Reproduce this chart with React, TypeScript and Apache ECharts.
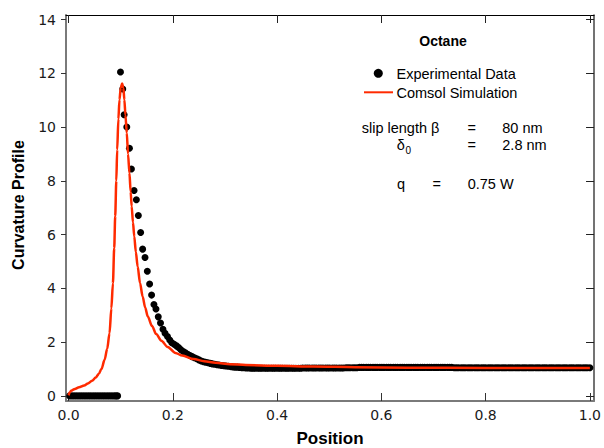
import React, { useEffect, useRef } from "react";
import * as echarts from "echarts";

const xTicks = [0, 0.2, 0.4, 0.6, 0.8, 1.0];
const yTicks = [0, 2, 4, 6, 8, 10, 12, 14];

// Experimental data (black dots)
const expX = [
  0.002, 0.0065, 0.011, 0.0155, 0.02, 0.0245, 0.029, 0.0335, 0.038, 0.0425, 0.047,
  0.0515, 0.056, 0.0605, 0.065, 0.0695, 0.074, 0.0785, 0.083, 0.0875, 0.091, 0.094,
  0.0995, 0.1039, 0.1065, 0.1116, 0.1167, 0.1205, 0.1256, 0.13, 0.1338, 0.1382, 0.142,
  0.1466, 0.151, 0.1554, 0.1592, 0.1637, 0.1676, 0.172, 0.1763, 0.181, 0.185, 0.1897,
  0.194, 0.198, 0.2025, 0.207, 0.211, 0.2155, 0.22, 0.224, 0.2285, 0.233, 0.237,
  0.2415, 0.246, 0.25, 0.2545, 0.259, 0.263, 0.2675, 0.272, 0.276, 0.2805, 0.285,
  0.289, 0.2935, 0.298, 0.302, 0.3065, 0.311, 0.315, 0.3195, 0.324, 0.328, 0.3325,
  0.337, 0.341, 0.3455, 0.35,
  0.354, 0.358, 0.363, 0.367, 0.371, 0.376, 0.38, 0.384, 0.389, 0.393,
  0.397, 0.402, 0.406, 0.41, 0.415, 0.419, 0.423, 0.428, 0.432, 0.436,
  0.441, 0.445, 0.449, 0.454, 0.458, 0.462, 0.467, 0.471, 0.475, 0.48,
  0.484, 0.488, 0.493, 0.497, 0.501, 0.506, 0.51, 0.514, 0.519, 0.523,
  0.527, 0.532, 0.536, 0.54, 0.545, 0.549, 0.553, 0.558, 0.562, 0.566,
  0.571, 0.575, 0.579, 0.584, 0.588, 0.592, 0.597, 0.601, 0.605, 0.61,
  0.614, 0.618, 0.623, 0.627, 0.631, 0.636, 0.64, 0.644, 0.649, 0.653,
  0.657, 0.662, 0.666, 0.67, 0.675, 0.679, 0.683, 0.688, 0.692, 0.696,
  0.701, 0.705, 0.709, 0.714, 0.718, 0.722, 0.727, 0.731, 0.735, 0.74,
  0.744, 0.748, 0.753, 0.757, 0.761, 0.766, 0.77, 0.774, 0.779, 0.783,
  0.787, 0.792, 0.796, 0.8, 0.805, 0.809, 0.813, 0.818, 0.822, 0.826,
  0.831, 0.835, 0.839, 0.844, 0.848, 0.852, 0.857, 0.861, 0.865, 0.87,
  0.874, 0.878, 0.883, 0.887, 0.891, 0.896, 0.9, 0.904, 0.909, 0.913,
  0.917, 0.922, 0.926, 0.93, 0.935, 0.939, 0.943, 0.948, 0.952, 0.956,
  0.961, 0.965, 0.969, 0.974, 0.978, 0.982, 0.987, 0.991, 0.995, 1.0,
];
const expY = [
  0, 0, 0, 0, 0, 0, 0, 0, 0, 0, 0,
  0, 0, 0, 0, 0, 0, 0, 0, 0, 0, 0,
  12.05, 11.42, 10.46, 10.0, 9.21, 8.44, 7.64, 7.3, 6.71, 6.08, 5.46,
  5.15, 4.64, 4.16, 3.75, 3.4, 3.23, 2.94, 2.71, 2.48, 2.33, 2.21,
  2.08, 1.98, 1.92, 1.86, 1.8, 1.72, 1.65, 1.6, 1.55, 1.5, 1.46,
  1.42, 1.38, 1.34, 1.3, 1.27, 1.25, 1.23, 1.21, 1.19, 1.18, 1.16,
  1.15, 1.13, 1.12, 1.11, 1.1, 1.09, 1.08, 1.07, 1.07, 1.06, 1.05,
  1.05, 1.04, 1.04, 1.03,
  1.03, 1.03, 1.03, 1.03, 1.03, 1.03, 1.03, 1.03, 1.03, 1.03,
  1.03, 1.03, 1.03, 1.03, 1.03, 1.03, 1.03, 1.03, 1.03, 1.03,
  1.03, 1.03, 1.04, 1.04, 1.04, 1.04, 1.04, 1.04, 1.04, 1.04,
  1.04, 1.04, 1.04, 1.04, 1.04, 1.04, 1.04, 1.04, 1.04, 1.04,
  1.04, 1.05, 1.05, 1.05, 1.05, 1.05, 1.05, 1.06, 1.06, 1.06,
  1.06, 1.06, 1.06, 1.06, 1.06, 1.06, 1.06, 1.06, 1.06, 1.06,
  1.06, 1.06, 1.06, 1.06, 1.06, 1.06, 1.06, 1.06, 1.06, 1.06,
  1.06, 1.06, 1.06, 1.06, 1.06, 1.06, 1.06, 1.06, 1.06, 1.06,
  1.06, 1.06, 1.06, 1.06, 1.06, 1.06, 1.06, 1.06, 1.06, 1.05,
  1.05, 1.05, 1.05, 1.05, 1.05, 1.05, 1.05, 1.05, 1.05, 1.05,
  1.05, 1.05, 1.05, 1.05, 1.05, 1.05, 1.05, 1.05, 1.05, 1.05,
  1.05, 1.05, 1.05, 1.05, 1.05, 1.05, 1.05, 1.05, 1.05, 1.05,
  1.05, 1.05, 1.05, 1.05, 1.05, 1.05, 1.05, 1.05, 1.05, 1.05,
  1.05, 1.05, 1.05, 1.05, 1.05, 1.05, 1.05, 1.05, 1.05, 1.05,
  1.05, 1.05, 1.05, 1.05, 1.05, 1.05, 1.05, 1.05, 1.05, 1.05,
];

// Comsol simulation (red line)
const simX = [
  0, 0.002, 0.005, 0.012, 0.02, 0.03, 0.037, 0.045, 0.052, 0.058, 0.063, 0.069,
  0.074, 0.0785, 0.082, 0.085, 0.0875, 0.0894, 0.0915, 0.0932, 0.0955, 0.0976, 0.1,
  0.1027, 0.105, 0.107, 0.109, 0.1116, 0.114, 0.1167, 0.119, 0.121, 0.1235, 0.126,
  0.129, 0.1325, 0.137, 0.142, 0.147, 0.152, 0.16, 0.168, 0.178, 0.19, 0.205, 0.218,
  0.24, 0.26, 0.282, 0.31, 0.34, 0.4, 0.47, 0.55, 0.65, 0.8, 1.0,
];
const simY = [
  0.02, 0.13, 0.19, 0.26, 0.32, 0.39, 0.46, 0.56, 0.68, 0.82, 1.0, 1.34,
  1.75, 2.33, 3.25, 4.19, 5.5, 6.68, 8.0, 9.16, 10.3, 11.02, 11.45,
  11.62, 11.45, 11.02, 10.45, 9.78, 9.0, 8.29, 7.6, 7.05, 6.45, 5.93,
  5.35, 4.81, 4.2, 3.7, 3.28, 2.95, 2.6, 2.3, 2.05, 1.82, 1.6, 1.5,
  1.37, 1.29, 1.23, 1.18, 1.15, 1.12, 1.09, 1.07, 1.05, 1.04, 1.04,
];

const RED = "#ff2a00";
const FONT = "Liberation Sans";

export default function App() {
  const ref = useRef<HTMLDivElement>(null);
  useEffect(() => {
    if (!ref.current) return;
    const chart = echarts.init(ref.current, null, { renderer: "svg" });
    const expData = expX.map((x, i) => [x, expY[i]]);
    const simData = simX.map((x, i) => [x, simY[i]]);
    const txt = (text: string, x: number, y: number, extra: any = {}) => ({
      type: "text",
      x,
      y,
      style: {
        text,
        fill: "#000",
        font: `14.5px "${FONT}"`,
        textAlign: "left",
        textVerticalAlign: "middle",
        ...extra,
      },
      z: 10,
    });
    chart.setOption({
      animation: false,
      backgroundColor: "#fff",
      grid: { left: 66, right: 6, top: 15, bottom: 47 },
      xAxis: [
        {
          type: "value",
          min: -0.005,
          max: 1.008,
          position: "bottom",
          splitLine: { show: false },
          axisLine: { show: true, onZero: false, lineStyle: { color: "#7a7a7a", width: 2 } },
          axisTick: { show: true, inside: true, length: 8, customValues: xTicks, lineStyle: { color: "#333", width: 1 } },
          axisLabel: {
            show: true,
            customValues: xTicks,
            margin: 7,
            color: "#1a1a1a",
            fontFamily: "DejaVu Sans",
            fontSize: 14,
            formatter: (v: number) => v.toFixed(1),
          },
        },
        {
          type: "value",
          min: -0.005,
          max: 1.008,
          position: "top",
          splitLine: { show: false },
          axisLine: { show: true, onZero: false, lineStyle: { color: "#000", width: 1 } },
          axisTick: { show: true, inside: true, length: 8, customValues: xTicks, lineStyle: { color: "#222", width: 1 } },
          axisLabel: { show: false },
        },
      ],
      yAxis: [
        {
          type: "value",
          min: -0.19,
          max: 14.17,
          position: "left",
          splitLine: { show: false },
          axisLine: { show: true, onZero: false, lineStyle: { color: "#7a7a7a", width: 2 } },
          axisTick: { show: true, inside: false, length: 5, customValues: yTicks, lineStyle: { color: "#333", width: 1 } },
          axisLabel: {
            show: true,
            customValues: yTicks,
            margin: 10,
            color: "#1a1a1a",
            fontFamily: "DejaVu Sans",
            fontSize: 14,
          },
        },
        {
          type: "value",
          min: -0.19,
          max: 14.17,
          position: "right",
          splitLine: { show: false },
          axisLine: { show: true, onZero: false, lineStyle: { color: "#444", width: 1.5 } },
          axisTick: { show: true, inside: true, length: 8, customValues: yTicks, lineStyle: { color: "#222", width: 1 } },
          axisLabel: { show: false },
        },
      ],
      series: [
        {
          name: "Experimental Data",
          type: "scatter",
          xAxisIndex: 0,
          yAxisIndex: 0,
          data: expData,
          symbol: "circle",
          symbolSize: 7,
          large: false,
          itemStyle: { color: "#000", opacity: 1 },
          z: 2,
        },
        {
          name: "Comsol Simulation",
          type: "line",
          xAxisIndex: 0,
          yAxisIndex: 0,
          data: simData,
          showSymbol: false,
          smooth: 0.3,
          smoothMonotone: "x",
          lineStyle: { color: RED, width: 2.5 },
          z: 3,
        },
      ],
      graphic: [
        {
          type: "text",
          x: 18.5,
          y: 205,
          rotation: Math.PI / 2,
          style: {
            text: "Curvature Profile",
            fill: "#000",
            font: `bold 16px "${FONT}"`,
            textAlign: "center",
            textVerticalAlign: "middle",
          },
        },
        {
          type: "text",
          x: 330,
          y: 438,
          style: {
            text: "Position",
            fill: "#000",
            font: `bold 17px "${FONT}"`,
            textAlign: "center",
            textVerticalAlign: "middle",
          },
        },
        txt("Octane", 443, 41, { font: `bold 14px "${FONT}"`, textAlign: "center" }),
        { type: "circle", shape: { cx: 378.3, cy: 73.3, r: 4.5 }, style: { fill: "#000" }, z: 10 },
        txt("Experimental Data", 396.5, 73.5),
        { type: "line", shape: { x1: 364, y1: 92.3, x2: 393, y2: 92.3 }, style: { stroke: RED, lineWidth: 2 }, z: 10 },
        txt("Comsol Simulation", 396.5, 92.5),
        txt("slip length \u03b2", 361.7, 127.5),
        txt("=", 471.7, 127.5, { textAlign: "center" }),
        txt("80 nm", 502.3, 127.5),
        txt("\u03b4", 396.7, 145),
        txt("0", 405.5, 150.5, { font: `10px "${FONT}"` }),
        txt("=", 471.7, 145, { textAlign: "center" }),
        txt("2.8 nm", 502.3, 145),
        txt("q", 397, 183.5),
        txt("=", 436.7, 183.5, { textAlign: "center" }),
        txt("0.75 W", 467.7, 183.5),
      ],
    });
    return () => chart.dispose();
  }, []);
  return <div ref={ref} style={{ width: 604, height: 448, position: "absolute", left: 0, top: 0 }} />;
}
